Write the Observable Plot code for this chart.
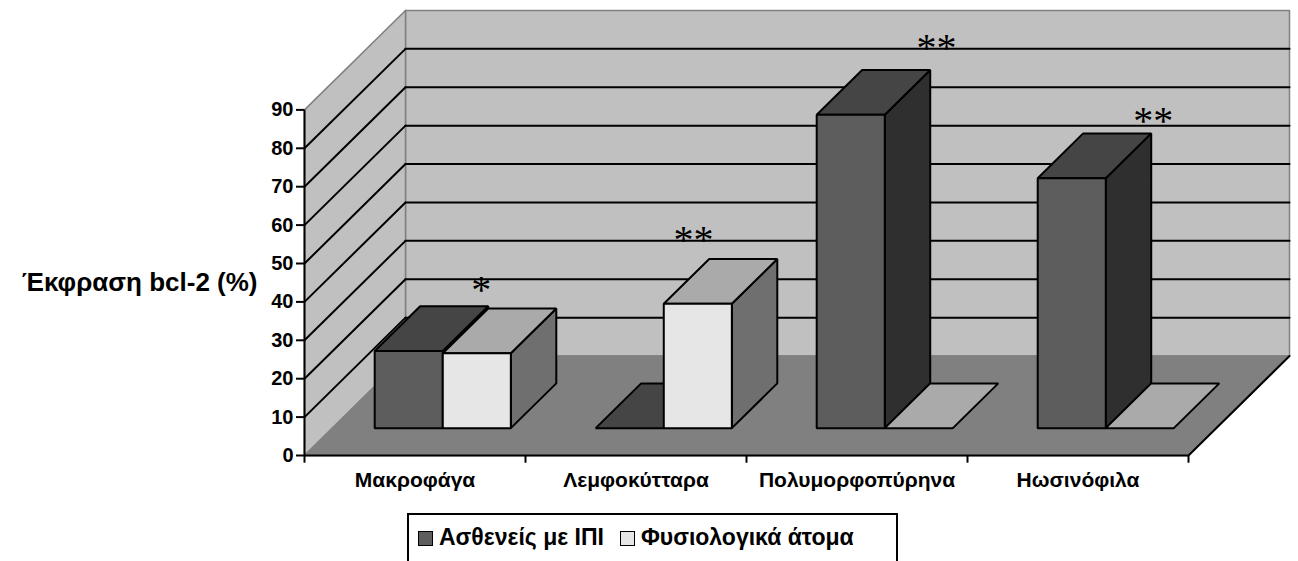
<!DOCTYPE html>
<html>
<head>
<meta charset="utf-8">
<script src="https://cdn.jsdelivr.net/npm/d3@7"></script>
<script src="https://cdn.jsdelivr.net/npm/@observablehq/plot@0.6"></script>
<style>
  body { margin: 0; background: #fff; font-family: "Liberation Sans", Arial, sans-serif; }
  #wrap { position: relative; width: 1298px; height: 561px; overflow: hidden; background: #fff; }
  #legend {
    position: absolute; left: 407px; top: 513px; width: 491px; height: 70px;
    border: 2px solid #000; box-sizing: border-box;
    display: flex; align-items: flex-start; padding: 10px 0 0 9px;
    font-weight: bold; font-size: 23px; line-height: 24px; color: #000;
  }
  .item { display: flex; align-items: center; margin-right: 16px; white-space: nowrap; }
  .sw { width: 15px; height: 15px; border: 1.5px solid #000; box-sizing: border-box; margin-right: 6px; margin-top: 2px; }
</style>
</head>
<body>
<div id="wrap">
  <div id="chart"></div>
  <div id="legend"></div>
</div>
<script>
// ---------------- data ----------------
const categories = ["Μακροφάγα", "Λεμφοκύτταρα", "Πολυμορφοπύρηνα", "Ηωσινόφιλα"];
const seriesNames = ["Ασθενείς με ΙΠΙ", "Φυσιολογικά άτομα"];
const patients = [20.1, 0, 81.6, 65.1];
const controls = [19.5, 32.4, 0, 0];
const yTicks = [0, 10, 20, 30, 40, 50, 60, 70, 80, 90];
const yLabel = "Έκφραση bcl-2 (%)";
const starText = ["*", "**", "**", "**"];
const starCat = [0.8, 1.76, 2.86, 3.84];
const starValue = [44, 57, 107, 88];

// ---------------- styles / 3D geometry ----------------
const faceColors = [
  {front: "#5d5d5d", top: "#454545", side: "#2f2f2f"},
  {front: "#e6e6e6", top: "#aaaaaa", side: "#6f6f6f"}
];
const wallFill = "#c0c0c0", floorFill = "#808080", wallStroke = "#808080";
const DX = 0.457;   // depth shift in category units
const DY = 25.9;    // depth shift in value units
const barW = 0.308; // bar width in category units
const z0 = 0.275, z1 = 0.725; // bar front/back depth

const n = categories.length;
const yMax = yTicks[yTicks.length - 1];
const values = [patients, controls];

const proj = (c, v, z) => ({x: c + z * DX, y: v + z * DY});
const poly = (id, pts, fill) => pts.map(p => ({id, x: p.x, y: p.y, fill}));

const walls = [
  ...poly("back", [proj(0, 0, 1), proj(n, 0, 1), proj(n, yMax, 1), proj(0, yMax, 1)], wallFill),
  ...poly("side", [proj(0, 0, 0), proj(0, 0, 1), proj(0, yMax, 1), proj(0, yMax, 0)], wallFill),
  ...poly("floor", [proj(0, 0, 0), proj(n, 0, 0), proj(n, 0, 1), proj(0, 0, 1)], floorFill)
];

const grid = [];
yTicks.filter(t => t > 0 && t < yMax).forEach(t => {
  grid.push(...poly("b" + t, [proj(0, t, 1), proj(n, t, 1)], null));
  grid.push(...poly("s" + t, [proj(0, t, 0), proj(0, t, 1)], null));
});

const bars = [];
categories.forEach((c, i) => {
  values.forEach((vals, s) => {
    const v = vals[i];
    const x0 = i + 0.5 + (s - 1) * barW, x1 = x0 + barW;
    const col = faceColors[s];
    const id = `${i}-${s}`;
    if (v > 0) {
      bars.push(...poly(id + "side", [proj(x1, 0, z0), proj(x1, 0, z1), proj(x1, v, z1), proj(x1, v, z0)], col.side));
    }
    bars.push(...poly(id + "top", [proj(x0, v, z0), proj(x1, v, z0), proj(x1, v, z1), proj(x0, v, z1)], col.top));
    if (v > 0) {
      bars.push(...poly(id + "front", [proj(x0, 0, z0), proj(x1, 0, z0), proj(x1, v, z0), proj(x0, v, z0)], col.front));
    }
  });
});

const rightEdge = [proj(n, 0, 0), proj(n, 0, 1)];

const chart = Plot.plot({
  width: 1298,
  height: 513,
  marginLeft: 304,
  marginRight: 110,
  marginTop: 109.4,
  marginBottom: 58,
  x: {domain: [0, n], axis: null},
  y: {domain: [0, yMax]},
  color: {type: "identity"},
  style: {fontFamily: "'Liberation Sans', Arial, sans-serif", background: "transparent", color: "#000"},
  marks: [
    Plot.line(walls, {x: "x", y: "y", z: "id", fill: "fill", stroke: wallStroke, strokeWidth: 1.5, curve: "linear-closed"}),
    Plot.line(grid, {x: "x", y: "y", z: "id", stroke: "#000", strokeWidth: 2}),
    Plot.line(bars, {x: "x", y: "y", z: "id", fill: "fill", stroke: "#000", strokeWidth: 2, curve: "linear-closed", strokeLinejoin: "miter"}),
    Plot.line(rightEdge, {x: "x", y: "y", stroke: "#000", strokeWidth: 2}),
    Plot.ruleY([0], {x1: 0, x2: n, stroke: "#000", strokeWidth: 2}),
    Plot.ruleX([0], {y1: 0, y2: yMax, stroke: "#000", strokeWidth: 2}),
    Plot.ruleX(d3.range(n + 1), {y1: 0, y2: -2, stroke: "#000", strokeWidth: 2}),
    Plot.axisY({ticks: yTicks, tickSize: 8, tickPadding: 3, fontSize: 20, fontWeight: "bold", label: null, strokeWidth: 2}),
    Plot.text(categories, {x: (d, i) => i + 0.5, y: 0, dy: 25, fontSize: 21, fontWeight: "bold", fill: "#000"}),
    Plot.text([yLabel], {frameAnchor: "left", dx: -47, textAnchor: "end", fontSize: 26, fontWeight: "bold", fill: "#000"}),
    Plot.text(starText, {x: (d, i) => starCat[i], y: (d, i) => starValue[i], fontSize: 40, fontFamily: "Liberation Serif", dy: 4, fill: "#000"})
  ]
});
document.getElementById("chart").appendChild(chart);

// legend
const legend = document.getElementById("legend");
seriesNames.forEach((name, s) => {
  const item = document.createElement("div");
  item.className = "item";
  const sw = document.createElement("div");
  sw.className = "sw";
  sw.style.background = faceColors[s].front;
  const label = document.createElement("span");
  label.textContent = name;
  item.appendChild(sw);
  item.appendChild(label);
  legend.appendChild(item);
});
</script>
</body>
</html>
